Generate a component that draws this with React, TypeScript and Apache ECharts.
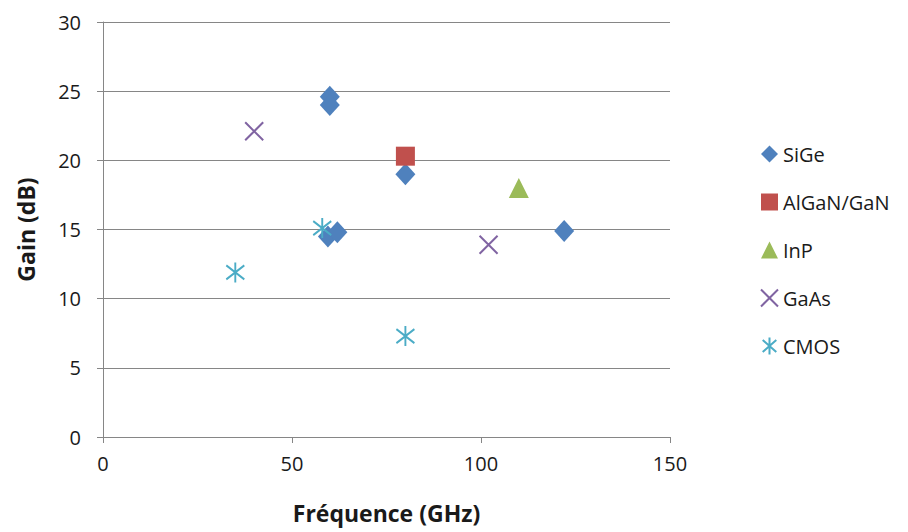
import React, { useEffect, useRef } from "react";
import * as echarts from "echarts";

const seriesNames = ["SiGe", "AlGaN/GaN", "InP", "GaAs", "CMOS"];
const sigeData = [
  [60, 24.6],
  [60, 24.0],
  [80, 19.0],
  [59.5, 14.5],
  [62, 14.8],
  [122, 14.9],
];
const alganData = [[80, 20.3]];
const inpData = [[110, 18.0]];
const gaasData = [
  [40, 22.1],
  [102, 13.9],
];
const cmosData = [
  [35, 11.9],
  [58, 15.1],
  [80, 7.3],
];
const xTicks = [0, 50, 100, 150];
const yTicks = [0, 5, 10, 15, 20, 25, 30];

const colors = ["#4F81BD", "#C0504D", "#9BBB59", "#8064A2", "#4BACC6"];
const FONT = "'Open Sans', 'Noto Sans', sans-serif";
const TEXT = "#1a1a1a";

const crossPath = "path://M0,0L10,10M10,0L0,10";
const starPath = "path://M5,0L5,10M1,1.5L9,8.5M9,1.5L1,8.5";

export default function App() {
  const ref = useRef<HTMLDivElement>(null);
  useEffect(() => {
    document.body.style.margin = "0";
    if (!ref.current) return;
    const chart = echarts.init(ref.current, undefined, { renderer: "svg" });
    const axisGray = "#868686";
    chart.setOption({
      animation: false,
      backgroundColor: "#ffffff",
      grid: { left: 103, right: 238, top: 22, bottom: 95 },
      legend: {
        orient: "vertical",
        left: 755,
        top: 139,
        itemWidth: 17,
        itemHeight: 17,
        itemGap: 28,
        textStyle: { fontFamily: FONT, fontSize: 20, color: TEXT },
        data: seriesNames,
      },
      xAxis: {
        type: "value",
        min: xTicks[0],
        max: xTicks[xTicks.length - 1],
        interval: 50,
        name: "Fréquence (GHz)",
        nameLocation: "middle",
        nameGap: 64,
        nameTextStyle: { fontFamily: FONT, fontSize: 23, fontWeight: "bold", color: TEXT },
        axisLine: { show: true, lineStyle: { color: axisGray, width: 1 } },
        axisTick: { show: true, length: 6, lineStyle: { color: axisGray } },
        axisLabel: { fontFamily: FONT, fontSize: 20, color: TEXT, margin: 16 },
        splitLine: { show: false },
      },
      yAxis: {
        type: "value",
        min: yTicks[0],
        max: yTicks[yTicks.length - 1],
        interval: 5,
        name: "Gain (dB)",
        nameLocation: "middle",
        nameGap: 66,
        nameTextStyle: { fontFamily: FONT, fontSize: 23, fontWeight: "bold", color: TEXT },
        axisLine: { show: true, lineStyle: { color: axisGray, width: 1 } },
        axisTick: { show: true, length: 6, lineStyle: { color: axisGray } },
        axisLabel: { fontFamily: FONT, fontSize: 20, color: TEXT, margin: 22 },
        splitLine: { show: true, lineStyle: { color: axisGray, width: 1 } },
      },
      series: [
        {
          name: seriesNames[0],
          type: "scatter",
          data: sigeData,
          symbol: "diamond",
          symbolSize: [20, 22],
          itemStyle: { color: colors[0], opacity: 1 },
        },
        {
          name: seriesNames[1],
          type: "scatter",
          data: alganData,
          symbol: "rect",
          symbolSize: 19,
          itemStyle: { color: colors[1], opacity: 1 },
        },
        {
          name: seriesNames[2],
          type: "scatter",
          data: inpData,
          symbol: "triangle",
          symbolSize: 20,
          itemStyle: { color: colors[2], opacity: 1 },
        },
        {
          name: seriesNames[3],
          type: "scatter",
          data: gaasData,
          symbol: crossPath,
          symbolSize: 18,
          itemStyle: { color: "transparent", borderColor: colors[3], borderWidth: 2, opacity: 1 },
        },
        {
          name: seriesNames[4],
          type: "scatter",
          data: cmosData,
          symbol: starPath,
          symbolSize: [18, 20],
          itemStyle: { color: "transparent", borderColor: colors[4], borderWidth: 2, opacity: 1 },
        },
      ],
    });
    return () => chart.dispose();
  }, []);
  return <div ref={ref} style={{ width: 908, height: 532 }} />;
}
